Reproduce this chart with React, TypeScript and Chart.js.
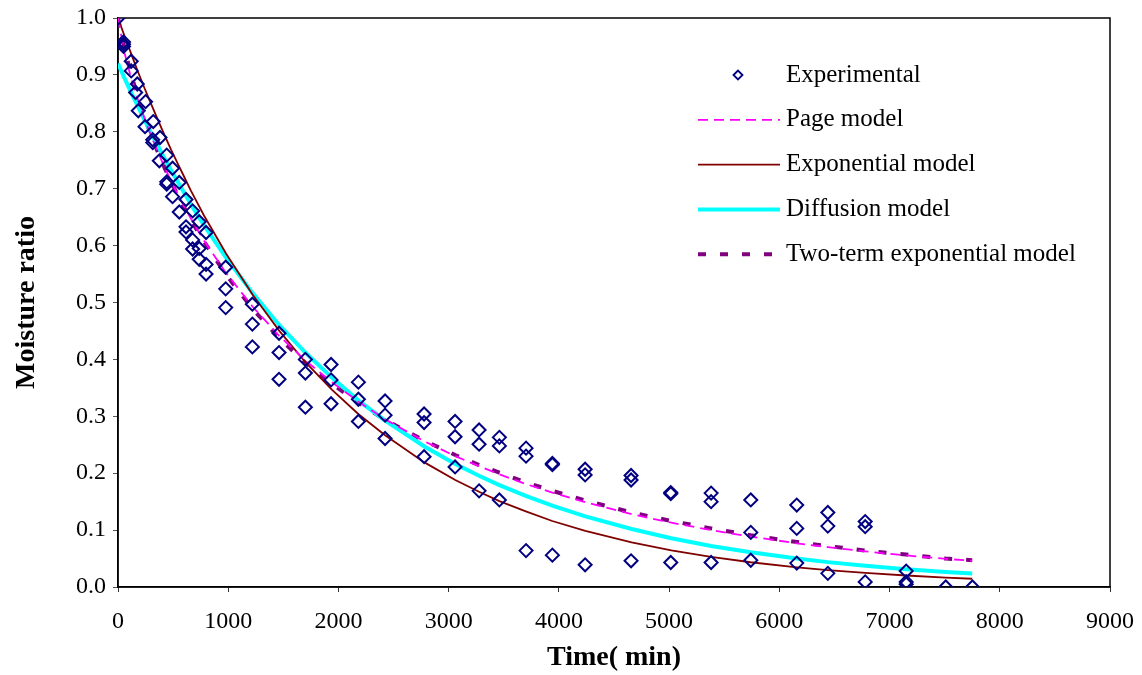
import { useEffect, useRef } from "react";
import { Chart, registerables } from "chart.js";

Chart.register(...registerables);

const SERIF = "'Liberation Serif', 'Times New Roman', serif";

// Experimental drying data: time (min) and moisture ratio, replicate readings
const expTime = [
  0,
  50, 50, 50,
  120, 120,
  175, 160, 184,
  250, 245,
  320, 315, 315,
  381, 375,
  442, 442, 442,
  495, 495,
  556, 556,
  617, 617, 617,
  677, 677, 677,
  737, 737, 737,
  799, 799, 799,
  977, 977, 977,
  1219, 1219, 1219,
  1461, 1461, 1461,
  1700, 1700, 1700,
  1933, 1933, 1933,
  2181, 2181, 2181,
  2423, 2423, 2423,
  2777, 2777, 2777,
  3058, 3058, 3058,
  3276, 3276, 3276,
  3460, 3460, 3460,
  3702, 3702, 3702,
  3941, 3941, 3941,
  4238, 4238, 4238,
  4655, 4655, 4655,
  5015, 5015, 5015,
  5381, 5381, 5381,
  5741, 5741, 5741,
  6158, 6158, 6158,
  6440, 6440, 6440,
  6779, 6779, 6779,
  7151, 7151, 7151,
  7510,
  7752,
];

const expMR = [
  1.0,
  0.958, 0.954, 0.95,
  0.924, 0.907,
  0.884, 0.869, 0.837,
  0.853, 0.809,
  0.818, 0.786, 0.781,
  0.79, 0.749,
  0.759, 0.712, 0.708,
  0.736, 0.686,
  0.711, 0.659,
  0.681, 0.633, 0.624,
  0.661, 0.61, 0.594,
  0.642, 0.595, 0.576,
  0.623, 0.567, 0.55,
  0.562, 0.524, 0.491,
  0.497, 0.462, 0.422,
  0.446, 0.412, 0.365,
  0.4, 0.376, 0.316,
  0.391, 0.364, 0.322,
  0.36, 0.33, 0.291,
  0.327, 0.302, 0.261,
  0.304, 0.289, 0.229,
  0.291, 0.264, 0.211,
  0.276, 0.251, 0.169,
  0.263, 0.248, 0.153,
  0.244, 0.23, 0.064,
  0.217, 0.215, 0.056,
  0.207, 0.197, 0.039,
  0.196, 0.188, 0.046,
  0.166, 0.164, 0.043,
  0.165, 0.15, 0.043,
  0.153, 0.096, 0.047,
  0.144, 0.103, 0.042,
  0.131, 0.107, 0.024,
  0.115, 0.106, 0.009,
  0.028, 0.009, 0.005,
  0.0,
  0.0,
];

// Predicted moisture ratio of each thin-layer model at the sampling times
const modelTime = [
  0, 60, 120, 180, 240, 300, 360, 420, 480, 540, 600, 660, 720, 780, 980,
  1220, 1460, 1700, 1940, 2180, 2420, 2780, 3060, 3280, 3460, 3700, 3940,
  4240, 4660, 5020, 5380, 5740, 6160, 6440, 6780, 7150, 7510, 7750,
];

const pageMR = [
  1.0, 0.938, 0.894, 0.857, 0.824, 0.793, 0.765, 0.739, 0.714, 0.691, 0.669,
  0.648, 0.628, 0.609, 0.552, 0.493, 0.442, 0.398, 0.36, 0.326, 0.295, 0.256,
  0.23, 0.212, 0.198, 0.181, 0.166, 0.149, 0.128, 0.113, 0.1, 0.0885, 0.0768,
  0.0701, 0.0626, 0.0555, 0.0494, 0.0461,
];

const exponentialMR = [
  1.0, 0.968, 0.937, 0.906, 0.877, 0.849, 0.822, 0.795, 0.769, 0.745, 0.721,
  0.697, 0.675, 0.653, 0.586, 0.514, 0.451, 0.395, 0.347, 0.304, 0.267, 0.219,
  0.188, 0.167, 0.151, 0.133, 0.116, 0.0988, 0.0785, 0.0645, 0.053, 0.0435,
  0.0346, 0.0297, 0.0247, 0.0202, 0.0166, 0.0145,
];

const diffusionMR = [
  0.92, 0.894, 0.869, 0.845, 0.821, 0.798, 0.776, 0.754, 0.733, 0.713, 0.693,
  0.673, 0.654, 0.636, 0.579, 0.517, 0.461, 0.412, 0.368, 0.328, 0.293, 0.247,
  0.216, 0.195, 0.179, 0.16, 0.143, 0.124, 0.102, 0.0857, 0.0722, 0.0609,
  0.0499, 0.0437, 0.0372, 0.0313, 0.0264, 0.0236,
];

const twoTermMR = [
  1.0, 0.945, 0.9, 0.861, 0.826, 0.794, 0.765, 0.738, 0.713, 0.689, 0.667,
  0.646, 0.626, 0.607, 0.549, 0.489, 0.438, 0.394, 0.357, 0.324, 0.294, 0.257,
  0.232, 0.214, 0.201, 0.184, 0.169, 0.152, 0.131, 0.116, 0.103, 0.091, 0.079,
  0.072, 0.064, 0.057, 0.05, 0.047,
];

const seriesLabels = [
  "Experimental",
  "Page model",
  "Exponential model",
  "Diffusion model",
  "Two-term exponential model",
];

const xTitle = "Time( min)";
const yTitle = "Moisture ratio";

const toPoints = (xs: number[], ys: number[]) =>
  xs.map((x, i) => ({ x, y: ys[i] }));

// Plot frame drawn behind the data marks
const framePlugin = {
  id: "frame",
  beforeDatasetsDraw(chart: any) {
    const { ctx, chartArea } = chart;
    ctx.save();
    ctx.strokeStyle = "#000";
    ctx.lineWidth = 1.5;
    ctx.strokeRect(
      chartArea.left,
      chartArea.top,
      chartArea.right - chartArea.left,
      chartArea.bottom - chartArea.top
    );
    ctx.restore();
  },
};

// Legend drawn inside the plot area, upper right
const legendPlugin = {
  id: "insideLegend",
  afterDraw(chart: any) {
    const { ctx, chartArea } = chart;
    const lineX0 = chartArea.left + 580;
    const lineX1 = chartArea.left + 662;
    const textX = chartArea.left + 668;
    const rowY0 = chartArea.top + 57;
    const rowGap = 44.8;
    ctx.save();
    ctx.font = `25px ${SERIF}`;
    ctx.textBaseline = "middle";
    ctx.textAlign = "left";
    chart.data.datasets.forEach((ds: any, i: number) => {
      const y = rowY0 + i * rowGap;
      if (i === 0) {
        const cx = chartArea.left + 620;
        const r = 4.5;
        ctx.beginPath();
        ctx.moveTo(cx - r, y);
        ctx.lineTo(cx, y - r);
        ctx.lineTo(cx + r, y);
        ctx.lineTo(cx, y + r);
        ctx.closePath();
        ctx.strokeStyle = ds.pointBorderColor;
        ctx.lineWidth = 1.8;
        ctx.stroke();
      } else {
        ctx.beginPath();
        ctx.setLineDash(ds.borderDash || []);
        ctx.strokeStyle = ds.borderColor;
        ctx.lineWidth = ds.borderWidth;
        ctx.moveTo(lineX0, y);
        ctx.lineTo(lineX1, y);
        ctx.stroke();
        ctx.setLineDash([]);
      }
      ctx.fillStyle = "#000";
      ctx.fillText(ds.label, textX, y);
    });
    ctx.restore();
  },
};

export default function App() {
  const canvasRef = useRef<HTMLCanvasElement | null>(null);

  useEffect(() => {
    if (!canvasRef.current) return;
    const chart = new Chart(canvasRef.current, {
      type: "line",
      data: {
        datasets: [
          {
            label: seriesLabels[0],
            data: toPoints(expTime, expMR),
            showLine: false,
            pointStyle: "rectRot",
            pointRadius: 6.5,
            pointBorderWidth: 2,
            pointBorderColor: "#000080",
            pointBackgroundColor: "rgba(0,0,0,0)",
            borderColor: "#000080",
          },
          {
            label: seriesLabels[1],
            data: toPoints(modelTime, pageMR),
            borderColor: "#FF00FF",
            borderWidth: 1.8,
            borderDash: [10, 6],
            pointRadius: 0,
          },
          {
            label: seriesLabels[2],
            data: toPoints(modelTime, exponentialMR),
            borderColor: "#800000",
            borderWidth: 1.8,
            pointRadius: 0,
          },
          {
            label: seriesLabels[3],
            data: toPoints(modelTime, diffusionMR),
            borderColor: "#00FFFF",
            borderWidth: 4,
            pointRadius: 0,
          },
          {
            label: seriesLabels[4],
            data: toPoints(modelTime, twoTermMR),
            borderColor: "#800080",
            borderWidth: 4,
            borderDash: [8, 14],
            pointRadius: 0,
          },
        ] as any,
      },
      options: {
        animation: false,
        responsive: false,
        maintainAspectRatio: false,
        devicePixelRatio: 1,
        layout: {
          autoPadding: false,
          padding: { top: 18, right: 32, left: 0, bottom: 0 },
        },
        plugins: {
          legend: { display: false },
          tooltip: { enabled: false },
        },
        elements: { line: { tension: 0 } },
        scales: {
          x: {
            type: "linear",
            min: 0,
            max: 9000,
            afterFit: (s: any) => {
              s.height = 88;
              s.paddingLeft = 0;
              s.paddingRight = 0;
            },
            ticks: {
              stepSize: 1000,
              color: "#000",
              font: { family: SERIF, size: 24 },
              padding: 15,
              maxRotation: 0,
              callback: (v: any) => String(Math.round(Number(v))),
            },
            grid: {
              display: true,
              drawOnChartArea: false,
              drawTicks: true,
              tickLength: 5,
              tickColor: "#333",
            },
            border: { display: true, color: "#000", width: 1.5 },
            title: {
              display: true,
              text: xTitle,
              color: "#000",
              font: { family: SERIF, size: 28, weight: "bold" },
              padding: { top: 0, bottom: 0 },
            },
          },
          y: {
            type: "linear",
            min: 0,
            max: 1,
            afterFit: (s: any) => {
              s.width = 118;
              s.paddingTop = 0;
              s.paddingBottom = 0;
            },
            ticks: {
              stepSize: 0.1,
              color: "#000",
              font: { family: SERIF, size: 24 },
              padding: 7,
              callback: (v: any) => Number(v).toFixed(1),
            },
            grid: {
              display: true,
              drawOnChartArea: false,
              drawTicks: true,
              tickLength: 5,
              tickColor: "#555",
            },
            border: { display: true, color: "#000", width: 1.5 },
            title: {
              display: true,
              text: yTitle,
              color: "#000",
              font: { family: SERIF, size: 28, weight: "bold" },
              padding: { top: 10, bottom: 0 },
            },
          },
        },
      } as any,
      plugins: [framePlugin, legendPlugin],
    });
    return () => chart.destroy();
  }, []);

  return (
    <div
      style={{
        position: "fixed",
        left: 0,
        top: 0,
        width: 1142,
        height: 675,
        background: "#fff",
      }}
    >
      <canvas
        ref={canvasRef}
        width={1142}
        height={675}
        style={{ display: "block" }}
      />
    </div>
  );
}
